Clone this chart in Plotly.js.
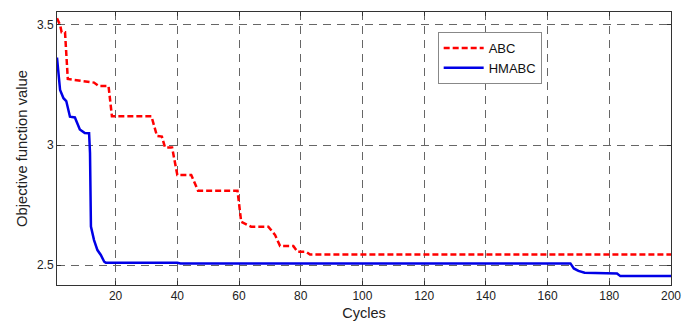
<!DOCTYPE html>
<html><head><meta charset="utf-8">
<script src="https://cdn.plot.ly/plotly-3.0.1.min.js"></script>
<style>body{margin:0;background:#fff}#chart{width:696px;height:325px}</style>
</head><body><div id="chart"></div>
<script>
const abcX = [1, 2, 2.5, 3.6, 4.5, 10, 13, 14.5, 17.7, 18.8, 31.6, 33.4, 35, 36, 38.3, 40, 44.5, 46.7, 59.5, 60.7, 63.9, 69.5, 71.7, 73.3, 77.6, 79, 81.8, 83, 200];
const abcY = [3.528, 3.50, 3.47, 3.47, 3.275, 3.265, 3.26, 3.246, 3.246, 3.12, 3.12, 3.038, 3.035, 2.99, 2.99, 2.875, 2.875, 2.81, 2.81, 2.68, 2.66, 2.66, 2.625, 2.579, 2.579, 2.555, 2.555, 2.544, 2.544];
const hmX = [1, 2, 3.1, 4, 5.2, 6.8, 8.4, 10, 11.4, 11.7, 12, 13, 14.1, 15.2, 16.3, 16.8, 40, 41, 167.4, 168.5, 170, 172, 182.5, 183.6, 200];
const hmY = [3.364, 3.229, 3.195, 3.183, 3.118, 3.115, 3.065, 3.05, 3.049, 2.967, 2.66, 2.604, 2.5625, 2.542, 2.514, 2.51, 2.51, 2.507, 2.507, 2.486, 2.476, 2.468, 2.465, 2.454, 2.454];
const seriesNames = ['ABC', 'HMABC'];
const xTicks = [20, 40, 60, 80, 100, 120, 140, 160, 180, 200];
const yTicks = [2.5, 3, 3.5];

const FONT = 'Liberation Sans, Arial, sans-serif';
const traces = [
  {x: abcX, y: abcY, name: seriesNames[0], mode: 'lines', line: {color: '#ff0000', width: 2.5, dash: '6px,3px'}},
  {x: hmX, y: hmY, name: seriesNames[1], mode: 'lines', line: {color: '#0000e6', width: 2.5}}
];
const axisCommon = {
  showline: true, mirror: 'ticks', linecolor: '#333', linewidth: 1,
  ticks: 'inside', ticklen: 4, tickcolor: '#333',
  showgrid: true, gridcolor: '#666', griddash: '8px,6px', gridwidth: 1,
  zeroline: false, tickfont: {family: FONT, size: 12, color: '#222'}
};
const layout = {
  width: 696, height: 325,
  margin: {l: 57, r: 25, t: 12, b: 40},
  paper_bgcolor: '#fff', plot_bgcolor: '#fff',
  showlegend: true,
  legend: {x: 0.62, y: 0.927, xanchor: 'left', yanchor: 'top', bgcolor: '#fff', bordercolor: '#888', borderwidth: 1,
           font: {family: FONT, size: 13, color: '#111'}, tracegroupgap: 2, itemwidth: 40},
  xaxis: Object.assign({}, axisCommon, {range: [1, 200], tickvals: xTicks,
    title: {text: 'Cycles', font: {family: FONT, size: 14.5, color: '#222'}, standoff: 5}}),
  yaxis: Object.assign({}, axisCommon, {range: [2.417, 3.554], tickvals: yTicks, ticktext: yTicks.map(String),
    title: {text: 'Objective function value', font: {family: FONT, size: 14.8, color: '#222'}, standoff: 5}})
};
Plotly.newPlot('chart', traces, layout, {staticPlot: true, displayModeBar: false});
</script></body></html>
